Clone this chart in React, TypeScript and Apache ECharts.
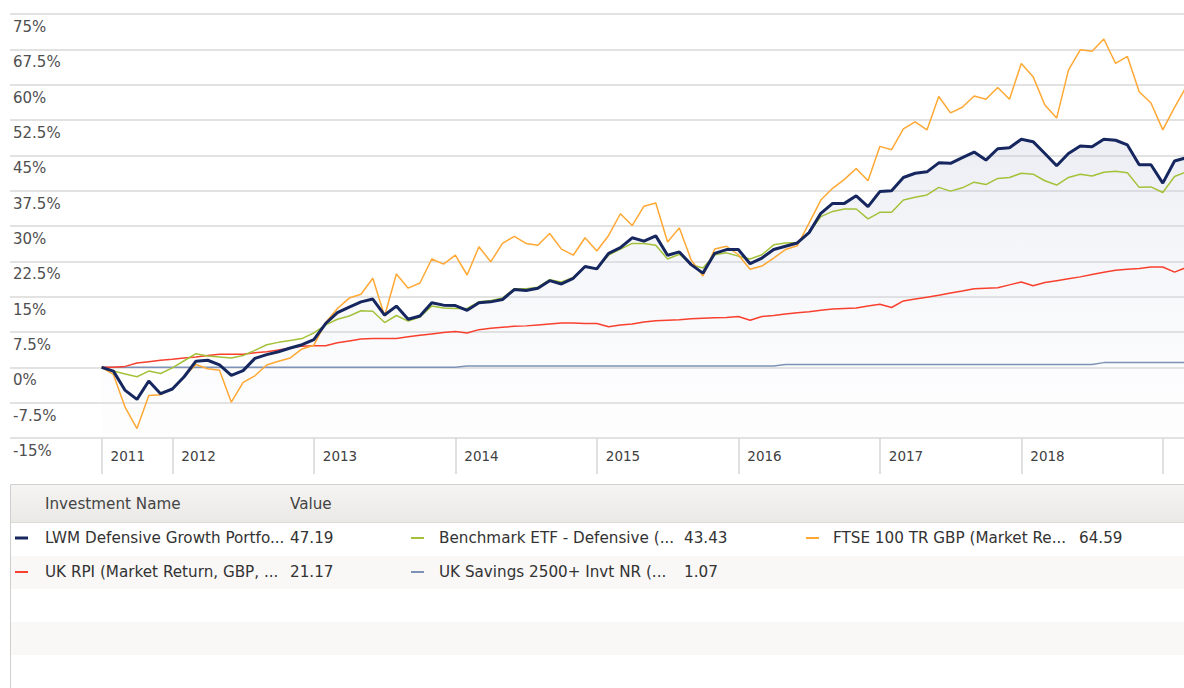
import React, { useEffect, useRef } from "react";
import * as echarts from "echarts";

// x = months since July 2011 (first observation)
const yearTickMonths = [0, 6, 18, 30, 42, 54, 66, 78, 90];
const yearLabelMonths = [0, 6, 18, 30, 42, 54, 66, 78];
const yearLabels = ["2011", "2012", "2013", "2014", "2015", "2016", "2017", "2018"];

const lwm = [
  0, -0.8, -4.9, -6.8, -2.9, -5.6, -4.6, -2.0, 1.3, 1.5, 0.5, -1.7, -0.7, 1.9, 2.7, 3.3, 4.1, 4.8, 5.9, 9.3, 11.6, 12.8, 13.9, 14.5, 11.1, 13.0,
  10.2, 10.9, 13.7, 13.2, 13.1, 12.1, 13.7, 13.9, 14.4, 16.5, 16.3, 16.8, 18.4, 17.7, 18.9, 21.4, 20.9, 24.2, 25.4, 27.5, 26.8, 27.9, 23.8, 24.5, 21.8,
  20.0, 24.2, 25.0, 25.0, 22.0, 23.2, 25.0, 25.7, 26.4, 28.6, 32.7, 34.8, 34.8, 36.4, 34.1, 37.3, 37.5, 40.3, 41.2, 41.5, 43.4, 43.3, 44.5,
  45.7, 44.0, 46.4, 46.6, 48.4, 47.9, 45.4, 42.8, 45.4, 47.0, 46.8, 48.4, 48.2, 47.2, 43.0, 43.0, 39.1, 43.8, 44.5,
];
const benchmark = [
  0, -0.8, -1.4, -2.0, -0.8, -1.3, -0.1, 1.4, 2.9, 2.4, 2.2, 2.0, 2.5, 3.6, 4.8, 5.3, 5.7, 6.1, 7.3, 9.0, 10.2, 10.9, 12.0, 11.9, 9.5, 11.0,
  9.8, 10.7, 13.0, 12.6, 12.5, 12.5, 13.9, 14.2, 14.7, 16.7, 16.7, 17.0, 18.6, 18.1, 19.1, 21.4, 20.9, 23.8, 25.1, 26.3, 26.3, 25.9, 23.0, 24.0, 21.8,
  21.1, 23.9, 24.3, 23.6, 23.0, 23.9, 26.0, 26.4, 26.5, 28.5, 32.0, 33.1, 33.6, 33.6, 31.5, 32.9, 32.9, 35.5, 36.1, 36.6, 38.2, 37.4, 38.1,
  39.3, 38.8, 40.1, 40.3, 41.2, 41.0, 39.6, 38.7, 40.3, 41.0, 40.6, 41.4, 41.6, 41.3, 38.2, 38.3, 37.1, 40.5, 41.5,
];
const ftse = [
  0, -1.5, -8.5, -13.0, -6.0, -5.8, -4.5, -2.0, 0.6, -0.3, -0.6, -7.4, -3.2, -1.8, 0.5, 1.3, 2.0, 3.9, 4.7, 9.5, 12.5, 14.7, 15.5, 18.9, 10.9, 19.8,
  16.8, 17.9, 23.0, 21.9, 23.8, 19.6, 25.6, 22.4, 26.3, 27.8, 26.3, 25.9, 28.4, 25.1, 23.8, 27.5, 24.7, 28.0, 32.6, 30.1, 34.2, 34.9, 26.6, 29.6, 22.8,
  19.4, 25.1, 25.7, 23.9, 20.8, 21.5, 23.2, 25.0, 25.8, 30.6, 35.5, 38.0, 39.9, 42.2, 39.6, 46.9, 46.2, 50.6, 52.1, 50.4, 57.5, 54.0, 55.2,
  57.6, 56.9, 59.4, 56.9, 64.5, 61.7, 55.7, 52.9, 63.1, 67.4, 67.1, 69.7, 64.5, 66.0, 58.5, 56.1, 50.4, 55.2, 59.6,
];
const rpi = [
  0, 0, 0.2, 0.9, 1.2, 1.5, 1.7, 2.0, 2.2, 2.5, 2.8, 2.8, 2.8, 3.1, 3.3, 3.7, 4.1, 4.5, 4.6, 4.6, 5.2, 5.6, 6.0, 6.1, 6.1, 6.1,
  6.5, 6.8, 7.1, 7.4, 7.6, 7.3, 8.0, 8.3, 8.5, 8.7, 8.8, 9.0, 9.2, 9.4, 9.4, 9.3, 9.3, 8.6, 9.0, 9.2, 9.6, 9.9, 10.0, 10.1, 10.3,
  10.4, 10.5, 10.6, 10.8, 10.0, 10.8, 11.0, 11.3, 11.6, 11.8, 12.1, 12.4, 12.5, 12.6, 13.0, 13.4, 12.7, 14.1, 14.5, 14.9, 15.3, 15.8, 16.2,
  16.7, 16.8, 16.9, 17.5, 18.1, 17.3, 18.0, 18.4, 18.8, 19.2, 19.7, 20.2, 20.6, 20.8, 21.0, 21.3, 21.3, 20.2, 21.2,
];
const savings = [
  0, 0, 0, 0, 0, 0, 0, 0, 0, 0, 0, 0, 0, 0, 0, 0, 0, 0, 0, 0, 0, 0, 0, 0, 0, 0, 0, 0, 0, 0, 0,
  0.3, 0.3, 0.3, 0.3, 0.3, 0.3, 0.3, 0.3, 0.3, 0.3, 0.3, 0.3, 0.3, 0.3, 0.3, 0.3, 0.3, 0.3, 0.3, 0.3, 0.3, 0.3, 0.3, 0.3, 0.3, 0.3, 0.3,
  0.6, 0.6, 0.6, 0.6, 0.6, 0.6, 0.6, 0.6, 0.6, 0.6, 0.6, 0.6, 0.6, 0.6, 0.6, 0.6, 0.6, 0.6, 0.6, 0.6, 0.6, 0.6, 0.6, 0.6, 0.6, 0.6, 0.6,
  1.0, 1.0, 1.0, 1.0, 1.0, 1.0, 1.0, 1.0,
];

const legendNames = [
  "LWM Defensive Growth Portfo...",
  "Benchmark ETF - Defensive (...",
  "FTSE 100 TR GBP (Market Re...",
  "UK RPI (Market Return, GBP, ...",
  "UK Savings 2500+ Invt NR (...",
];
const legendValues = ["47.19", "43.43", "64.59", "21.17", "1.07"];
const colors = ["#16275f", "#a3c23a", "#ffa834", "#f8402f", "#7d92b6"];
const lineWidths = [3, 1.5, 1.5, 1.5, 1.5];
const seriesData = [lwm, benchmark, ftse, rpi, savings];

const FONT = '"DejaVu Sans", Verdana, sans-serif';

export default function App() {
  const ref = useRef<HTMLDivElement>(null);
  useEffect(() => {
    if (!ref.current) return;
    const chart = echarts.init(ref.current, undefined, { renderer: "svg" });
    const toPairs = (arr: number[]) => arr.map((v, i) => [i, v]);

    const lineSeries = [4, 3, 1, 2, 0].map((k) => ({
      type: "line",
      name: legendNames[k],
      data: toPairs(seriesData[k]),
      showSymbol: false,
      symbol: "none",
      clip: true,
      z: 3 + (k === 0 ? 2 : 0),
      lineStyle: { color: colors[k], width: lineWidths[k] },
    }));

    const cols = [
      { icon: 15, text: 45, value: 290 },
      { icon: 411, text: 439, value: 684 },
      { icon: 806, text: 833, value: 1079 },
    ];
    const rows = [538, 572];
    const legendGraphics: any[] = [];
    legendNames.forEach((name, k) => {
      const c = cols[k % 3];
      const y = rows[Math.floor(k / 3)];
      legendGraphics.push({
        type: "line",
        shape: { x1: c.icon, y1: y, x2: c.icon + 13, y2: y },
        style: { stroke: colors[k], lineWidth: k === 0 ? 3 : 2 },
        silent: true,
      });
      legendGraphics.push({
        type: "text",
        x: c.text,
        y,
        style: { text: name, fill: "#333", font: `15.2px ${FONT}`, verticalAlign: "middle", align: "left" },
      });
      legendGraphics.push({
        type: "text",
        x: c.value,
        y,
        style: { text: legendValues[k], fill: "#333", font: `15.2px ${FONT}`, verticalAlign: "middle", align: "left" },
      });
    });

    chart.setOption({
      animation: false,
      backgroundColor: "#ffffff",
      grid: { left: 10, right: 0, top: 14, bottom: 250 },
      xAxis: {
        type: "value",
        min: -7.77,
        max: 91.8,
        axisLine: { show: false, onZero: false },
        splitLine: { show: false },
        axisTick: {
          show: true,
          inside: false,
          customValues: yearTickMonths,
          length: 36,
          lineStyle: { color: "#d6d6d6", width: 1.5 },
        },
        axisLabel: {
          customValues: yearLabelMonths,
          formatter: (v: number) => yearLabels[yearLabelMonths.indexOf(v)] ?? "",
          align: "left",
          padding: [0, 0, 0, 9],
          margin: 11,
          color: "#404040",
          fontFamily: FONT,
          fontSize: 13.5,
        },
      },
      yAxis: {
        type: "value",
        min: -15,
        max: 75,
        interval: 7.5,
        axisLine: { show: false },
        axisTick: { show: false },
        splitLine: { lineStyle: { color: "#e2e2e2", width: 2 } },
        axisLabel: {
          inside: true,
          margin: 3,
          verticalAlign: "top",
          padding: [5.5, 0, 0, 0],
          formatter: (v: number) => `${v}%`,
          color: "#505050",
          fontFamily: FONT,
          fontSize: 15,
        },
      },
      series: [
        {
          type: "line",
          name: "area",
          data: toPairs(lwm),
          showSymbol: false,
          symbol: "none",
          z: 1,
          lineStyle: { width: 0, opacity: 0 },
          areaStyle: {
            origin: "start",
            color: new echarts.graphic.LinearGradient(0, 0, 0, 1, [
              { offset: 0, color: "rgba(196,201,220,0.45)" },
              { offset: 1, color: "rgba(230,232,242,0.08)" },
            ]),
          },
          silent: true,
        },
        ...lineSeries,
      ],
      graphic: [
        {
          type: "rect",
          shape: { x: 10.5, y: 484.5, width: 1200, height: 260 },
          style: { fill: "#ffffff", stroke: "#cfcfcf", lineWidth: 1 },
          silent: true,
        },
        {
          type: "rect",
          shape: { x: 11, y: 485, width: 1200, height: 37 },
          style: {
            fill: new echarts.graphic.LinearGradient(0, 0, 0, 1, [
              { offset: 0, color: "#f5f4f2" },
              { offset: 1, color: "#ebe9e6" },
            ]),
          },
          silent: true,
        },
        {
          type: "line",
          shape: { x1: 11, y1: 522.5, x2: 1184, y2: 522.5 },
          style: { stroke: "#dddbd8", lineWidth: 1 },
          silent: true,
        },
        { type: "rect", shape: { x: 11, y: 556, width: 1200, height: 33 }, style: { fill: "#f9f8f7" }, silent: true },
        { type: "rect", shape: { x: 11, y: 622, width: 1200, height: 33 }, style: { fill: "#f9f8f7" }, silent: true },
        {
          type: "text",
          x: 45,
          y: 504,
          style: { text: "Investment Name", fill: "#444", font: `15.2px ${FONT}`, verticalAlign: "middle" },
        },
        {
          type: "text",
          x: 290,
          y: 504,
          style: { text: "Value", fill: "#444", font: `15.2px ${FONT}`, verticalAlign: "middle" },
        },
        ...legendGraphics,
      ],
    });
    return () => chart.dispose();
  }, []);

  return (
    <div
      ref={ref}
      style={{ position: "absolute", left: 0, top: 0, width: 1184, height: 688 }}
    />
  );
}
